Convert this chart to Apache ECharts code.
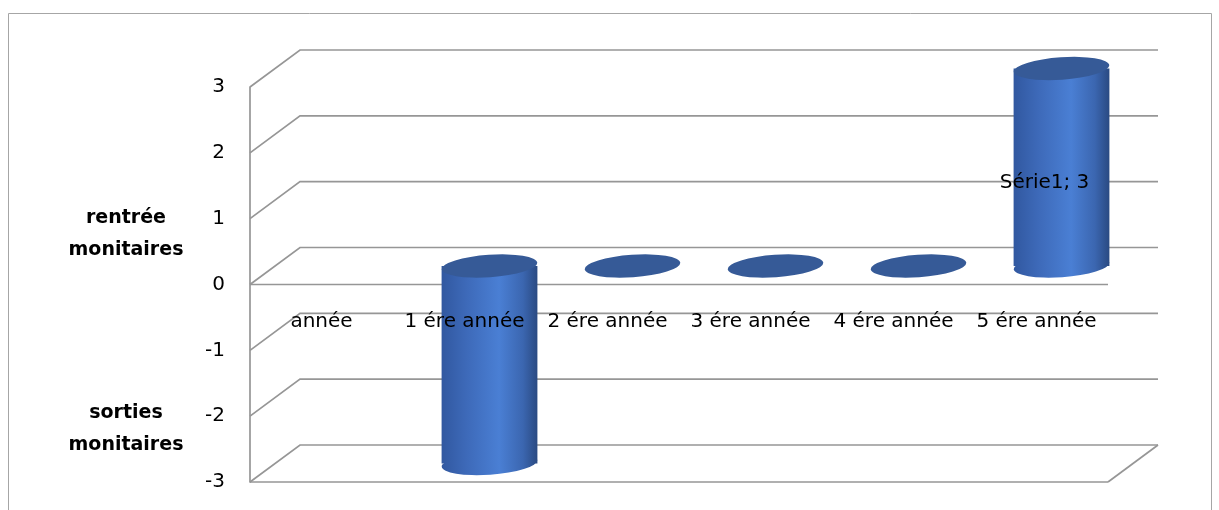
<!DOCTYPE html>
<html><head><meta charset="utf-8">
<script src="https://cdn.jsdelivr.net/npm/echarts@6/dist/echarts.min.js"></script>
<style>html,body{margin:0;padding:0;background:#fff}#c{width:1219px;height:510px}</style>
</head><body><div id="c"></div>
<script>
// ---- data ----
const categories = ['année', '1 ére année', '2 ére année', '3 ére année', '4 ére année', '5 ére année'];
const seriesName = 'Série1';
const values = [null, -3, 0, 0, 0, 3];
const yTicks = [-3, -2, -1, 0, 1, 2, 3];
const labelledIndex = 5;
const upperSideLabel = 'rentrée\nmonitaires';
const lowerSideLabel = 'sorties\nmonitaires';

// ---- style ----
const FONT = '"DejaVu Sans", sans-serif';
const GRID_COLOR = '#969696';
const DX = 50, DY = -37;           // depth offset of the back wall
const Y_MIN = -3, Y_MAX = 3;
const GRID = {left: 250, right: 111, top: 87, bottom: 28};
const PLOT_H = 510 - GRID.top - GRID.bottom;

const chart = echarts.init(document.getElementById('c'), null, {renderer: 'canvas'});

function renderWall(params, api) {
  const cs = params.coordSys;
  const v = api.value(1);
  const y = api.coord([0, v])[1];
  const x0 = cs.x, x1 = cs.x + cs.width;
  const style = {stroke: GRID_COLOR, lineWidth: 1.7, fill: null};
  const children = [
    {type: 'polyline', shape: {points: [[x0, y], [x0 + DX, y + DY], [x1 + DX, y + DY]]}, style}
  ];
  if (v === 0 || v === Y_MIN) {
    children.push({type: 'line', shape: {x1: x0, y1: y, x2: x1, y2: y}, style});
  }
  if (v === Y_MIN) {
    children.push({type: 'line', shape: {x1: x1, y1: y, x2: x1 + DX, y2: y + DY}, style});
  }
  return {type: 'group', children};
}

function renderCylinder(params, api) {
  const v = api.value(1);
  if (v == null || isNaN(v)) return null;
  const cat = api.value(0);
  const p0 = api.coord([cat, 0]);
  const p1 = api.coord([cat, v]);
  const bw = api.size([1, 0])[0];
  const rx = bw * 0.335, ry = 11.2, rot = 0.07;
  const cx = p0[0] + DX / 2;
  const y0 = p0[1] + DY / 2, y1 = p1[1] + DY / 2;
  const yt = Math.min(y0, y1), yb = Math.max(y0, y1);
  const topFill = '#365a97';
  const mkGrad = () => new echarts.graphic.LinearGradient(0, 0, 1, 0, [
    {offset: 0, color: '#3158a0'},
    {offset: 0.25, color: '#3d69b8'},
    {offset: 0.6, color: '#4a7fd4'},
    {offset: 0.85, color: '#3b66b0'},
    {offset: 1, color: '#2a4a82'}
  ]);
  const ell = (cy, fill) => ({
    type: 'circle', shape: {cx: 0, cy: 0, r: rx},
    x: cx, y: cy, scaleY: ry / rx, rotation: rot, style: {fill}
  });
  const children = [];
  if (yb - yt < 1) {
    children.push(ell(yt, topFill));
  } else {
    children.push(ell(yb, mkGrad()));
    children.push({type: 'rect', shape: {x: cx - rx, y: yt, width: 2 * rx, height: yb - yt}, style: {fill: mkGrad()}});
    children.push(ell(yt, topFill));
  }
  if (params.dataIndex === labelledIndex) {
    children.push({
      type: 'text', x: cx - 17, y: (yt + yb) / 2 + 16,
      style: {text: seriesName + '; ' + v, font: '20px ' + FONT, fill: '#000', align: 'center', verticalAlign: 'middle'}
    });
  }
  return {type: 'group', children};
}

const option = {
  animation: false,
  backgroundColor: '#fff',
  grid: {left: GRID.left, right: GRID.right, top: GRID.top, bottom: GRID.bottom, containLabel: false, outerBoundsMode: 'none'},
  xAxis: {
    type: 'category', data: categories, z: 10,
    position: 'bottom',
    offset: -PLOT_H * (0 - Y_MIN) / (Y_MAX - Y_MIN),
    axisLine: {show: false, onZero: false},
    axisTick: {show: false},
    axisLabel: {color: '#000', fontFamily: FONT, fontSize: 20, margin: 27, interval: 0},
    splitLine: {show: false}
  },
  yAxis: {
    type: 'value', min: Y_MIN, max: Y_MAX, interval: 1,
    axisLine: {show: true, lineStyle: {color: GRID_COLOR, width: 1.7}},
    axisTick: {show: false},
    axisLabel: {color: '#000', fontFamily: FONT, fontSize: 20, margin: 25},
    splitLine: {show: false}
  },
  graphic: [
    {type: 'rect', shape: {x: 8.5, y: 13.5, width: 1203, height: 520}, style: {fill: null, stroke: '#a6a6a6', lineWidth: 1}, silent: true},
    {type: 'text', x: 126, y: 234, style: {text: upperSideLabel, font: 'bold 19px ' + FONT, fill: '#000', align: 'center', verticalAlign: 'middle', lineHeight: 32}},
    {type: 'text', x: 126, y: 429, style: {text: lowerSideLabel, font: 'bold 19px ' + FONT, fill: '#000', align: 'center', verticalAlign: 'middle', lineHeight: 32}}
  ],
  series: [
    {
      type: 'custom', name: 'walls', silent: true, z: 1, clip: false,
      renderItem: renderWall,
      data: yTicks.map(v => [0, v])
    },
    {
      type: 'custom', name: seriesName, z: 2, clip: false,
      renderItem: renderCylinder,
      data: values.map((v, i) => [i, v == null ? '-' : v])
    }
  ]
};
chart.setOption(option);
</script>
</body></html>
